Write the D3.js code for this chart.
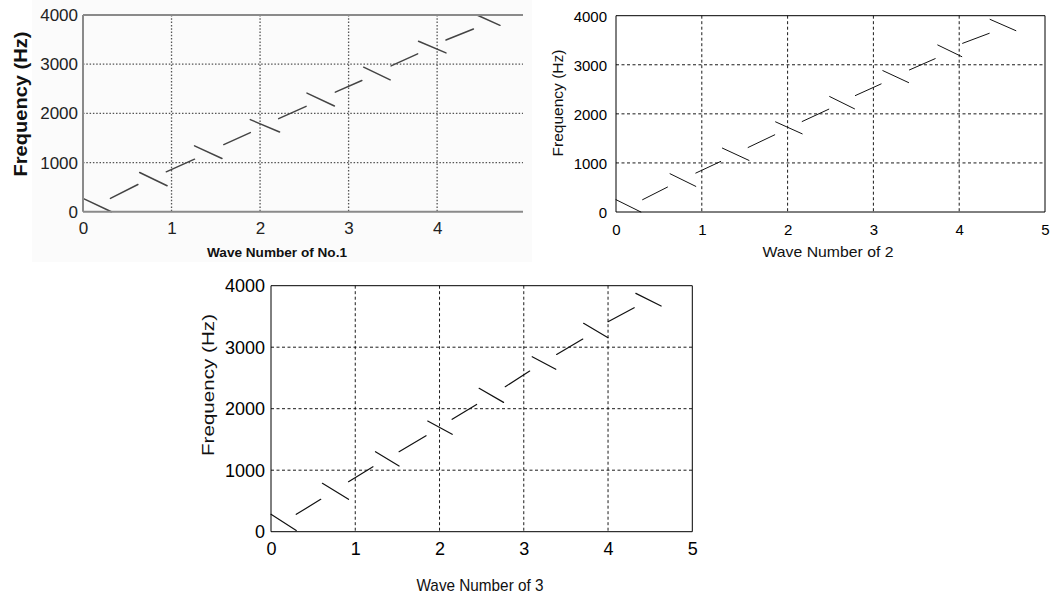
<!DOCTYPE html>
<html><head><meta charset="utf-8">
<script src="https://cdn.jsdelivr.net/npm/d3@7"></script>
<style>body{margin:0;background:#fff}svg{display:block}</style></head>
<body>
<svg id="c" width="1064" height="600"></svg>
<script>
// ---- data ----
const yTicks = [0, 1000, 2000, 3000, 4000];
const xTicks1 = [0, 1, 2, 3, 4];
const xTicks2 = [0, 1, 2, 3, 4, 5];
const xTicks3 = [0, 1, 2, 3, 4, 5];
const xLabels = ["Wave Number of No.1", "Wave Number of 2", "Wave Number of 3"];
const yLabel = "Frequency (Hz)";
// each segment: [xStart, yStart, xEnd, yEnd]
const wave1 = [
  [0.00, 270, 0.32, 0], [0.31, 270, 0.62, 554], [0.64, 797, 0.95, 527],
  [0.94, 811, 1.26, 1068], [1.26, 1338, 1.57, 1081], [1.59, 1365, 1.89, 1608],
  [1.89, 1872, 2.22, 1622], [2.21, 1892, 2.52, 2142], [2.53, 2412, 2.84, 2149],
  [2.85, 2432, 3.15, 2669], [3.17, 2939, 3.47, 2682], [3.48, 2966, 3.78, 3209],
  [3.79, 3466, 4.10, 3230], [4.10, 3493, 4.41, 3716], [4.45, 4000, 4.71, 3790]
];
const wave2 = [
  [0.00, 251, 0.29, 0], [0.31, 251, 0.60, 508], [0.63, 780, 0.93, 522],
  [0.93, 793, 1.22, 1030], [1.24, 1302, 1.55, 1051], [1.54, 1315, 1.85, 1573],
  [1.86, 1837, 2.17, 1593], [2.17, 1844, 2.48, 2095], [2.49, 2353, 2.78, 2102],
  [2.79, 2373, 3.09, 2610], [3.11, 2881, 3.41, 2637], [3.42, 2895, 3.72, 3125],
  [3.75, 3403, 4.03, 3166], [4.04, 3437, 4.35, 3641], [4.36, 3925, 4.66, 3695]
];
const wave3 = [
  [0.00, 282, 0.30, 20], [0.30, 282, 0.59, 526], [0.61, 786, 0.92, 526],
  [0.92, 813, 1.21, 1057], [1.24, 1301, 1.52, 1068], [1.52, 1301, 1.84, 1561],
  [1.86, 1799, 2.15, 1583], [2.15, 1827, 2.44, 2070], [2.47, 2331, 2.76, 2103],
  [2.78, 2358, 3.07, 2612], [3.10, 2846, 3.38, 2640], [3.39, 2883, 3.70, 3133],
  [3.71, 3388, 4.00, 3154], [4.00, 3415, 4.31, 3642], [4.33, 3875, 4.63, 3669]
];

// ---- layout / style ----
const svg = d3.select("#c");
svg.append("rect").attr("x", 32).attr("y", 0).attr("width", 500).attr("height", 262).attr("fill", "#fbfbfb");

const charts = [
  { data: wave1, xt: xTicks1, xmax: 4.97, L: 83, T: 15, R: 523, B: 211.7, box: false,
    axisColor: "#8a8a8a", axisW: 2, gridColor: "#555", gridDash: "1.5,1.8", gridW: 1.3,
    lineColor: "#444", lineW: 1.5, tickFont: 17, tickWeight: "normal", tickColor: "#222",
    tickXOffset: 17, yTickEnd: 78, xl: xLabels[0], xlX: 277, xlY: 252, xlFont: 13.5, xlWeight: "bold", xlLen: 140,
    ylX: 20, ylY: 104, ylFont: 19, ylWeight: "bold", ylLen: 145 },
  { data: wave2, xt: xTicks2, xmax: 5, L: 616, T: 15.7, R: 1045, B: 212, box: true,
    axisColor: "#000", axisW: 1, gridColor: "#000", gridDash: "3,2.5", gridW: 0.9,
    lineColor: "#111", lineW: 1, tickFont: 15, tickWeight: "normal", tickColor: "#000",
    tickXOffset: 17, yTickEnd: 607, xl: xLabels[1], xlX: 828, xlY: 251, xlFont: 15, xlWeight: "normal", xlLen: 131,
    ylX: 557, ylY: 103, ylFont: 15, ylWeight: "normal", ylLen: 107 },
  { data: wave3, xt: xTicks3, xmax: 5, L: 271, T: 285.7, R: 692.3, B: 531.7, box: true,
    axisColor: "#000", axisW: 1, gridColor: "#000", gridDash: "3,2.5", gridW: 0.9,
    lineColor: "#111", lineW: 1.2, tickFont: 18, tickWeight: "normal", tickColor: "#000",
    tickXOffset: 17, yTickEnd: 265, xl: xLabels[2], xlX: 480, xlY: 585, xlFont: 17, xlWeight: "normal", xlLen: 127,
    ylX: 208, ylY: 385, ylFont: 17, ylWeight: "normal", ylLen: 142 }
];

charts.forEach(c => {
  const x = d3.scaleLinear().domain([0, c.xmax]).range([c.L, c.R]);
  const y = d3.scaleLinear().domain([0, 4000]).range([c.B, c.T]);
  const g = svg.append("g");
  if (c.box) g.append("rect").attr("x", c.L).attr("y", c.T).attr("width", c.R - c.L).attr("height", c.B - c.T).attr("fill", "#fff");

  // grid
  g.selectAll(".gx").data(c.xt.filter(v => v > 0 && v < c.xmax)).join("line")
    .attr("x1", d => x(d)).attr("x2", d => x(d)).attr("y1", c.T).attr("y2", c.B)
    .attr("stroke", c.gridColor).attr("stroke-width", c.gridW).attr("stroke-dasharray", c.gridDash);
  g.selectAll(".gy").data(yTicks.filter(v => v > 0 && v < 4000)).join("line")
    .attr("y1", d => y(d)).attr("y2", d => y(d)).attr("x1", c.L).attr("x2", c.R)
    .attr("stroke", c.gridColor).attr("stroke-width", c.gridW).attr("stroke-dasharray", c.gridDash);

  // data segments
  g.selectAll(".seg").data(c.data).join("line")
    .attr("x1", d => x(d[0])).attr("y1", d => y(d[1]))
    .attr("x2", d => x(d[2])).attr("y2", d => y(d[3]))
    .attr("stroke", c.lineColor).attr("stroke-width", c.lineW).attr("stroke-linecap", "round");

  // frame
  const fr = g.append("g").attr("stroke", c.axisColor).attr("stroke-width", c.axisW).attr("fill", "none");
  fr.append("line").attr("x1", c.L).attr("x2", c.R).attr("y1", c.B).attr("y2", c.B);
  fr.append("line").attr("x1", c.L).attr("x2", c.R).attr("y1", c.T).attr("y2", c.T);
  fr.append("line").attr("x1", c.L).attr("x2", c.L).attr("y1", c.T).attr("y2", c.B);
  if (c.box) fr.append("line").attr("x1", c.R).attr("x2", c.R).attr("y1", c.T).attr("y2", c.B);

  // axes labels via d3 axes
  const ax = g.append("g").attr("transform", `translate(0,${c.B})`)
    .call(d3.axisBottom(x).tickValues(c.xt).tickSize(0).tickPadding(c.tickXOffset - 6).tickFormat(d3.format("d")));
  ax.select(".domain").remove();
  ax.selectAll("text").attr("font-family", "Liberation Sans, Arial, sans-serif")
    .attr("font-size", c.tickFont).attr("font-weight", c.tickWeight).attr("fill", c.tickColor)
    .attr("dy", null).attr("y", c.tickXOffset).attr("dominant-baseline", "central");
  const ay = g.append("g").attr("transform", `translate(${c.yTickEnd},0)`)
    .call(d3.axisLeft(y).tickValues(yTicks).tickSize(0).tickPadding(0).tickFormat(d3.format("d")));
  ay.select(".domain").remove();
  ay.selectAll("text").attr("font-family", "Liberation Sans, Arial, sans-serif")
    .attr("font-size", c.tickFont).attr("font-weight", c.tickWeight).attr("fill", c.tickColor)
    .attr("x", 0).attr("dy", null).attr("dominant-baseline", "central");

  g.append("text").attr("x", c.xlX).attr("y", c.xlY).attr("text-anchor", "middle")
    .attr("dominant-baseline", "central").attr("font-family", "Liberation Sans, Arial, sans-serif")
    .attr("font-size", c.xlFont).attr("font-weight", c.xlWeight).attr("fill", "#111")
    .attr("textLength", c.xlLen).attr("lengthAdjust", "spacingAndGlyphs").text(c.xl);
  g.append("text").attr("transform", `translate(${c.ylX},${c.ylY}) rotate(-90)`).attr("text-anchor", "middle")
    .attr("dominant-baseline", "central").attr("font-family", "Liberation Sans, Arial, sans-serif")
    .attr("font-size", c.ylFont).attr("font-weight", c.ylWeight).attr("fill", "#111")
    .attr("textLength", c.ylLen).attr("lengthAdjust", "spacingAndGlyphs").text(yLabel);
});
</script>
</body></html>
